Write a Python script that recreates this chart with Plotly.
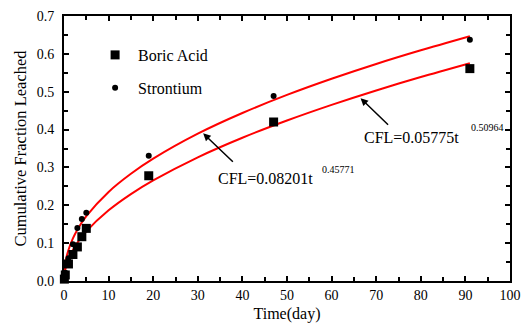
import plotly.graph_objects as go

# Measured data (days, cumulative fraction leached)
days = [0.083, 0.29, 1, 2, 3, 4, 5, 19, 47, 91]
boric_acid = [0.005, 0.016, 0.045, 0.070, 0.090, 0.117, 0.139, 0.278, 0.420, 0.561]
strontium = [0.008, 0.022, 0.060, 0.097, 0.140, 0.164, 0.180, 0.331, 0.489, 0.637]

# Fitted curves
curve_t = [0, 0.1, 0.5, 1, 2, 3, 5, 10, 15, 20, 30, 40, 50, 60, 70, 80, 91]
curve_sr = [0.0, 0.0286, 0.0597, 0.0820, 0.1126, 0.1356, 0.1713, 0.2353, 0.2832,
            0.3231, 0.3891, 0.4437, 0.4915, 0.5342, 0.5733, 0.6094, 0.6465]
curve_ba = [0.0, 0.0179, 0.0406, 0.0578, 0.0822, 0.1011, 0.1312, 0.1867, 0.2296,
            0.2658, 0.3268, 0.3785, 0.4240, 0.4653, 0.5034, 0.5388, 0.5754]

x_ticks = [0, 10, 20, 30, 40, 50, 60, 70, 80, 90, 100]
y_ticks = [0.0, 0.1, 0.2, 0.3, 0.4, 0.5, 0.6, 0.7]

FONT = "Liberation Serif, Times New Roman, serif"

fig = go.Figure()
fig.add_trace(go.Scatter(x=curve_t, y=curve_sr, mode="lines",
                         line=dict(color="#ff0000", width=2, shape="spline", smoothing=0.8),
                         showlegend=False, hoverinfo="skip"))
fig.add_trace(go.Scatter(x=curve_t, y=curve_ba, mode="lines",
                         line=dict(color="#ff0000", width=2, shape="spline", smoothing=0.8),
                         showlegend=False, hoverinfo="skip"))
fig.add_trace(go.Scatter(x=days, y=boric_acid, mode="markers", name="Boric Acid",
                         marker=dict(symbol="square", size=9, color="black"),
                         cliponaxis=False, legendgroup="a"))
fig.add_trace(go.Scatter(x=days, y=strontium, mode="markers", name="Strontium",
                         marker=dict(symbol="circle", size=6, color="black"),
                         cliponaxis=False, legendgroup="b"))

axis_common = dict(showline=True, linecolor="black", linewidth=2, mirror="ticks",
                   ticks="inside", ticklen=5, tickwidth=1.5, tickcolor="black",
                   showgrid=False, zeroline=False, automargin=False,
                   tickfont=dict(family=FONT, size=14, color="black"))

fig.update_xaxes(range=[0, 100], tickvals=x_ticks, ticktext=[str(v) for v in x_ticks],
                 minor=dict(ticks="inside", dtick=5, ticklen=4, tickwidth=1.5, tickcolor="black"),
                 title=dict(text="Time(day)", font=dict(family=FONT, size=16, color="black"), standoff=6),
                 **axis_common)
fig.update_yaxes(range=[0, 0.7], tickvals=y_ticks, ticktext=[f"{v:.1f}" for v in y_ticks],
                 minor=dict(ticks="inside", dtick=0.05, ticklen=4, tickwidth=1.5, tickcolor="black"),
                 ticklabelstandoff=5,
                 title=dict(text="Cumulative Fraction Leached", font=dict(family=FONT, size=16.5, color="black"),
                            standoff=6),
                 **axis_common)

ann = []
# arrows
ann.append(dict(x=31.2, y=0.390, ax=38.2, ay=0.311, xref="x", yref="y", axref="x", ayref="y",
                text="", showarrow=True, arrowhead=2, arrowsize=1, arrowwidth=1.5, arrowcolor="black"))
ann.append(dict(x=66.5, y=0.483, ax=73.0, ay=0.409, xref="x", yref="y", axref="x", ayref="y",
                text="", showarrow=True, arrowhead=2, arrowsize=1, arrowwidth=1.5, arrowcolor="black"))
# equation texts
ann.append(dict(x=34.1, y=0.272, xref="x", yref="y", xanchor="left", yanchor="middle", showarrow=False,
                text="CFL=0.08201t", font=dict(family=FONT, size=16, color="black")))
ann.append(dict(x=57.4, y=0.2955, xref="x", yref="y", xanchor="left", yanchor="middle", showarrow=False,
                text="0.45771", font=dict(family=FONT, size=10, color="black")))
ann.append(dict(x=66.9, y=0.380, xref="x", yref="y", xanchor="left", yanchor="middle", showarrow=False,
                text="CFL=0.05775t", font=dict(family=FONT, size=16, color="black")))
ann.append(dict(x=90.8, y=0.406, xref="x", yref="y", xanchor="left", yanchor="middle", showarrow=False,
                text="0.50964", font=dict(family=FONT, size=10, color="black")))

fig.update_layout(
    width=522, height=324,
    margin=dict(l=64, r=12, t=16, b=43, autoexpand=False),
    paper_bgcolor="white", plot_bgcolor="white",
    font=dict(family=FONT, size=13, color="black"),
    annotations=ann,
    legend=dict(x=0.063, y=0.917, xanchor="left", yanchor="top", bgcolor="rgba(0,0,0,0)",
                itemwidth=36, tracegroupgap=9, font=dict(family=FONT, size=16, color="black")),
)

fig.write_html("out.html")
